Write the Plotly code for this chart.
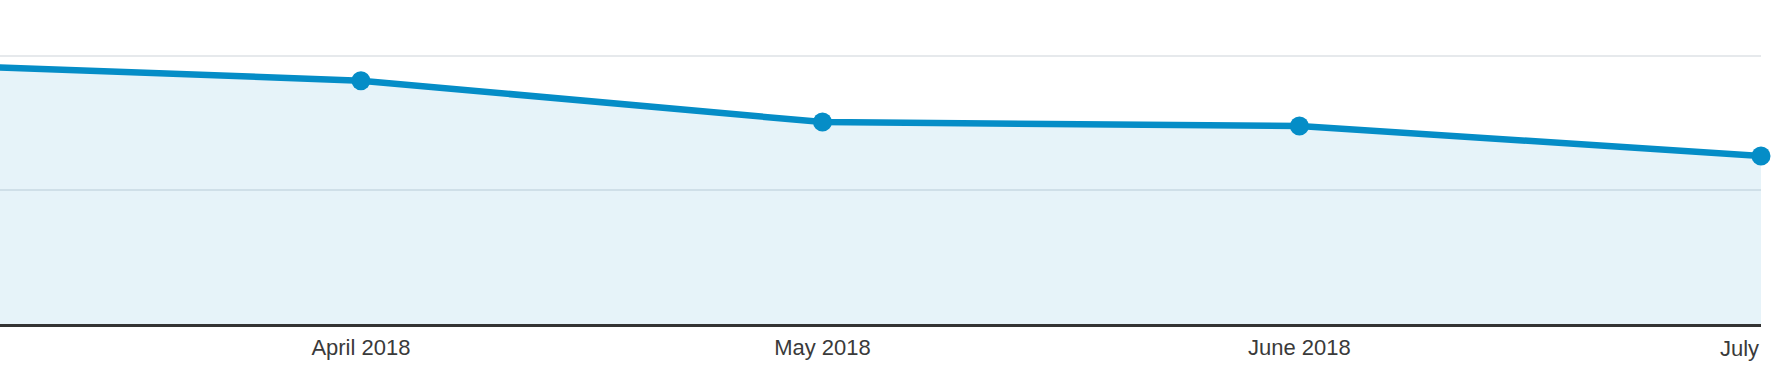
import plotly.graph_objects as go

# Data (monthly points; the March point lies left of the visible window)
months = ["2018-03-01", "2018-04-01", "2018-05-01", "2018-06-01", "2018-07-01"]
values = [194.6, 181.6, 150.7, 147.8, 125.4]
tick_dates = ["2018-04-01", "2018-05-01", "2018-06-01"]
tick_labels = ["April 2018", "May 2018", "June 2018"]
last_label = "July"
grid_values = [100, 200]

LINE = "#058dc7"
FILL = "rgba(5,141,199,0.1)"
TEXT = "#3a3a3a"
FONT = "Liberation Sans, Arial, sans-serif"

fig = go.Figure()
fig.add_trace(go.Scatter(
    x=months, y=values,
    mode="lines+markers",
    line=dict(color=LINE, width=6.5),
    marker=dict(color=LINE, size=19),
    fill="tozeroy", fillcolor=FILL,
    cliponaxis=False,
    hoverinfo="skip",
))

fig.add_annotation(
    x=months[-1], y=0, xref="x", yref="paper",
    text=last_label, showarrow=False,
    xanchor="right", yanchor="top", yshift=-10,
    font=dict(family=FONT, size=22, color=TEXT),
)

fig.update_layout(
    width=1786, height=367,
    margin=dict(l=0, r=25, t=0, b=43),
    paper_bgcolor="white", plot_bgcolor="white",
    showlegend=False,
    font=dict(family=FONT, size=22, color=TEXT),
)
fig.update_xaxes(
    type="date",
    range=["2018-03-08 13:00", "2018-07-01"],
    tickvals=tick_dates, ticktext=tick_labels,
    ticks="", showgrid=False,
    showline=True, linewidth=2.5, linecolor="#333333",
    tickfont=dict(family=FONT, size=22, color=TEXT),
    ticklabelstandoff=2,
    zeroline=False,
)
fig.update_yaxes(
    range=[0, 241.8],
    tickvals=grid_values, showticklabels=False,
    showgrid=True, gridcolor="#e6e9ec", gridwidth=2,
    zeroline=False, showline=False, ticks="",
)

fig.write_html("out.html", config={"displayModeBar": False},
               post_script="document.body.style.margin='0';")
